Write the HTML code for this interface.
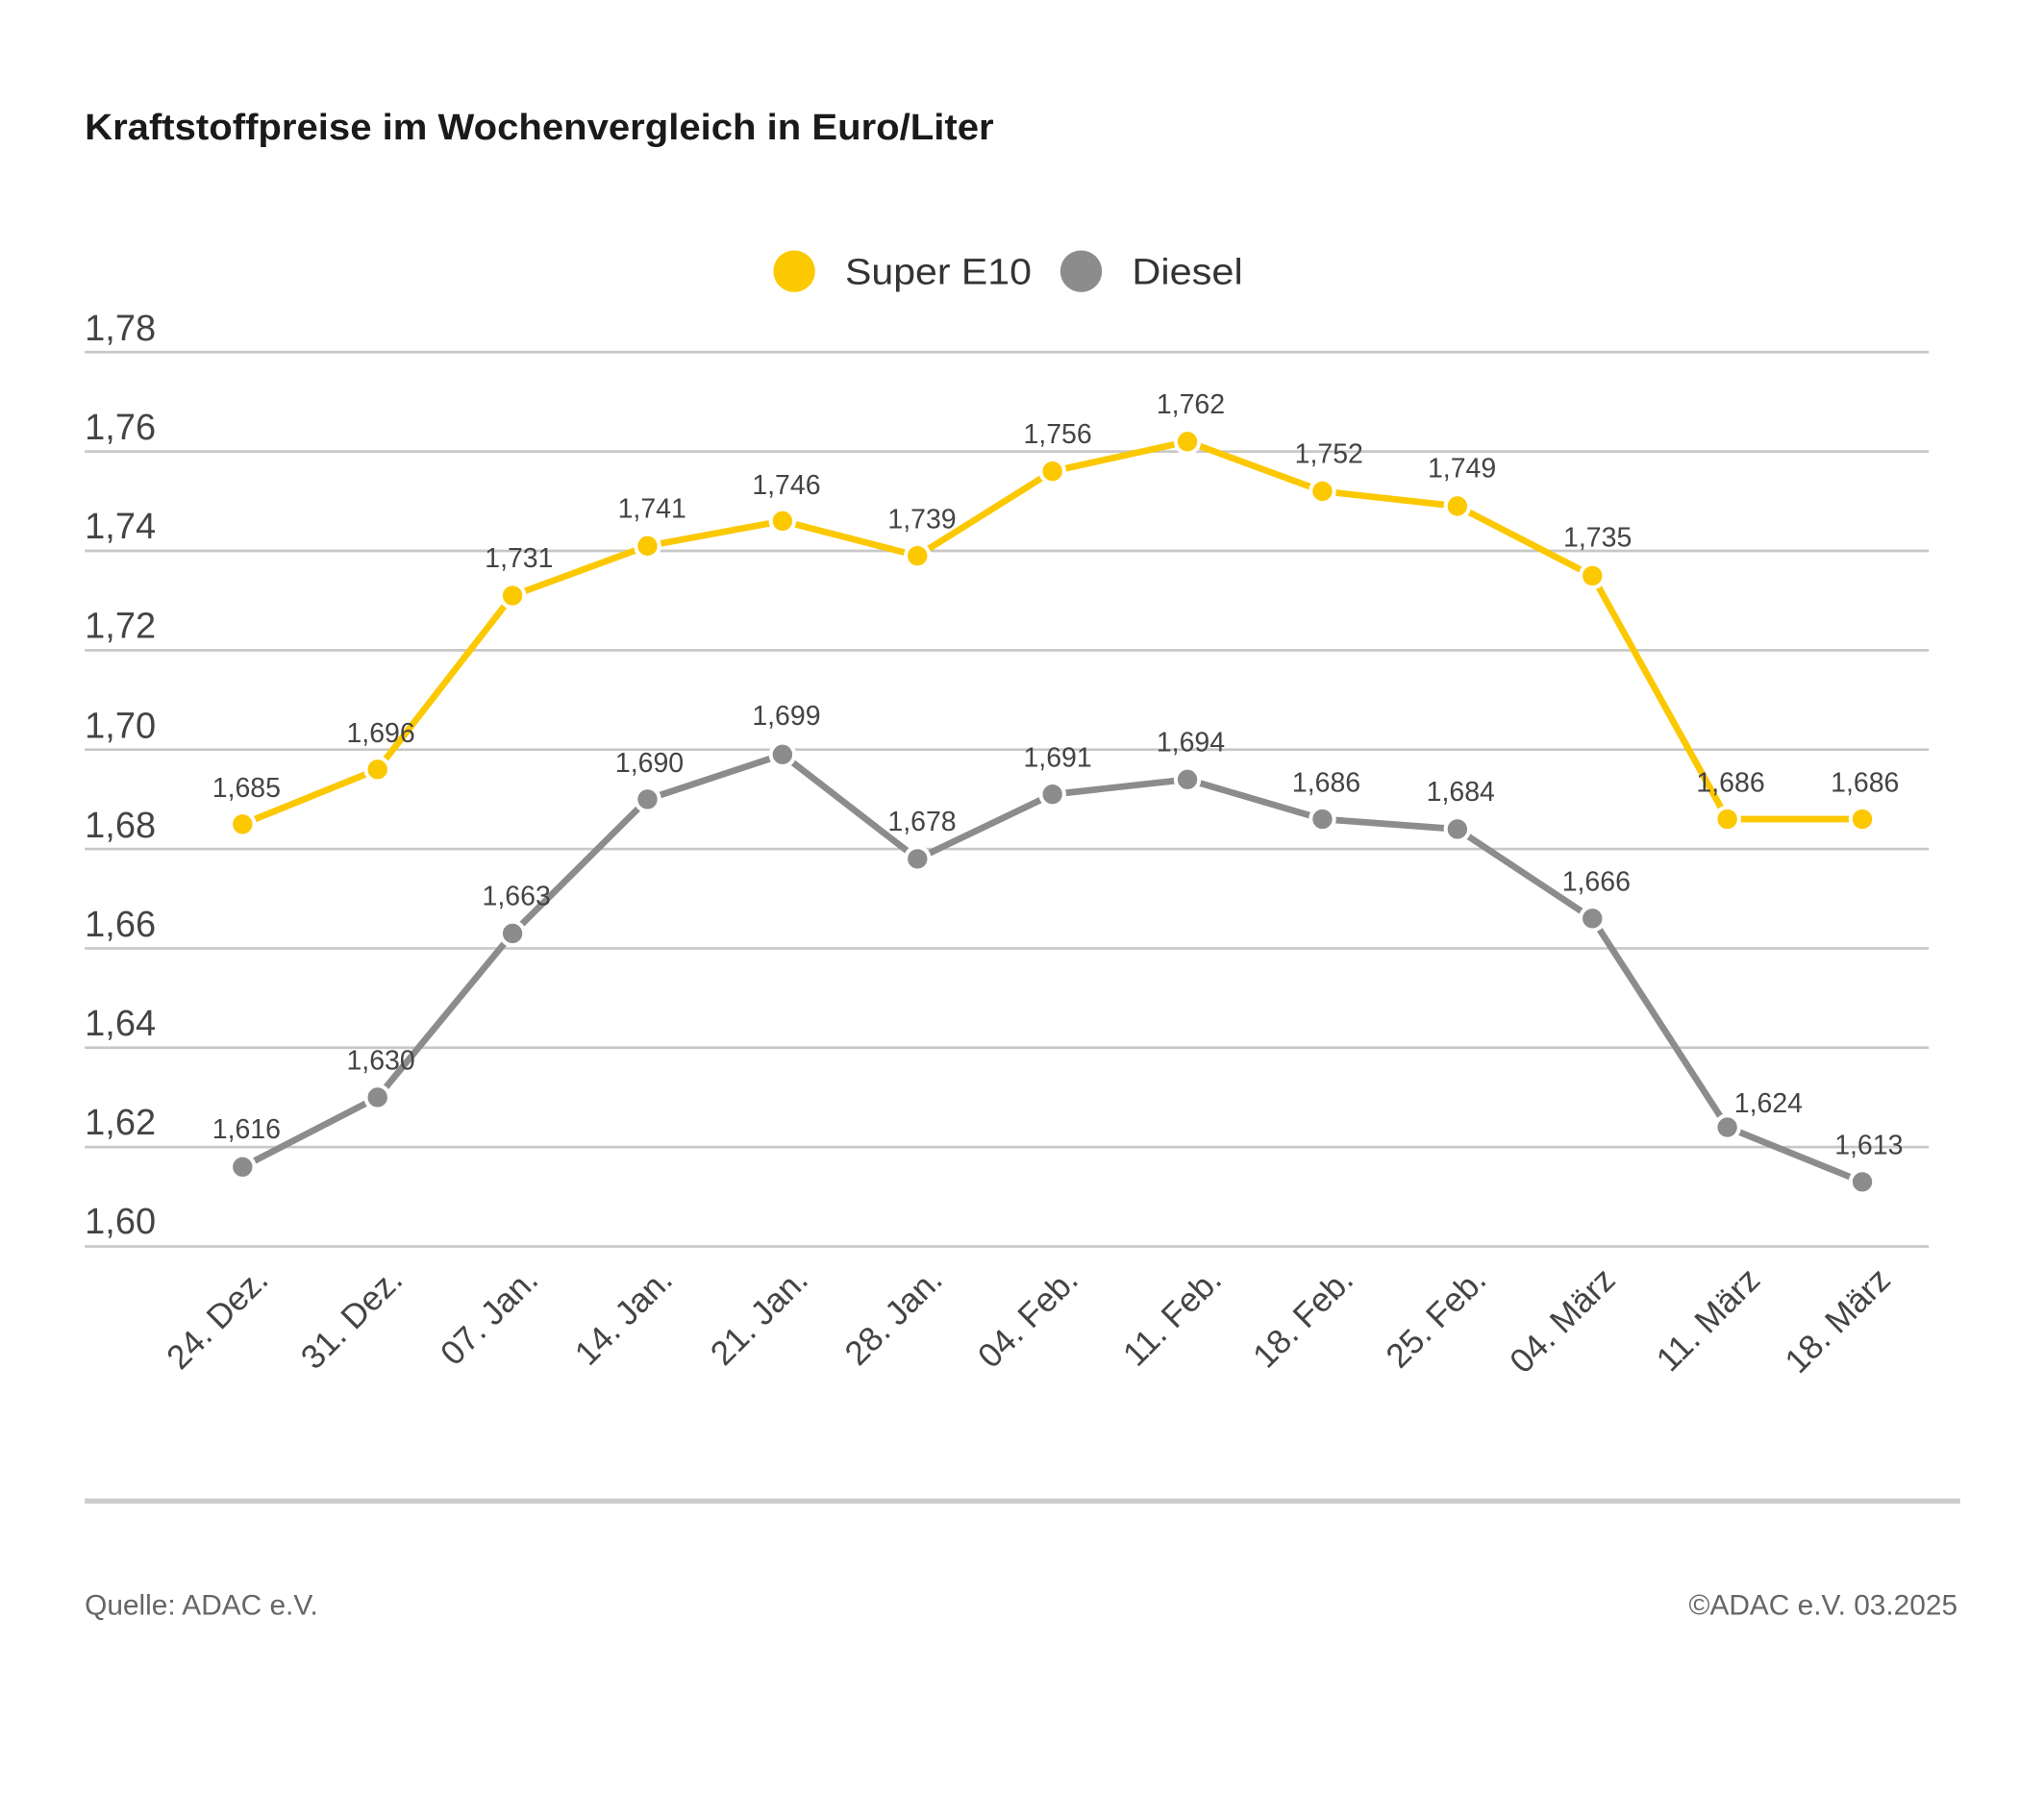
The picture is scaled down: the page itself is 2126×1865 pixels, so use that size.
<!DOCTYPE html>
<html><head><meta charset="utf-8"><style>
html,body{margin:0;padding:0;background:#fff;}
svg{display:block;}
text{font-family:"Liberation Sans",sans-serif;}
</style></head><body>
<svg width="2126" height="1865" viewBox="0 0 1567.3 1374.9" preserveAspectRatio="none" xmlns="http://www.w3.org/2000/svg">
<rect width="1567.3" height="1374.9" fill="#fff"/>
<text x="65" y="107" font-size="28" font-weight="bold" fill="#1a1a1a" textLength="697" lengthAdjust="spacingAndGlyphs">Kraftstoffpreise im Wochenvergleich in Euro/Liter</text>
<circle cx="609" cy="208" r="16" fill="#fcc800"/>
<text x="648" y="218" font-size="28" fill="#333" textLength="143" lengthAdjust="spacingAndGlyphs">Super E10</text>
<circle cx="829" cy="208" r="16" fill="#8c8c8c"/>
<text x="868" y="218" font-size="28" fill="#333" textLength="85" lengthAdjust="spacingAndGlyphs">Diesel</text>
<g stroke="#c8c8c8" stroke-width="2">
<line x1="65" x2="1479" y1="270" y2="270"/><line x1="65" x2="1479" y1="346.2" y2="346.2"/><line x1="65" x2="1479" y1="422.4" y2="422.4"/><line x1="65" x2="1479" y1="498.6" y2="498.6"/><line x1="65" x2="1479" y1="574.8" y2="574.8"/><line x1="65" x2="1479" y1="651" y2="651"/><line x1="65" x2="1479" y1="727.2" y2="727.2"/><line x1="65" x2="1479" y1="803.4" y2="803.4"/><line x1="65" x2="1479" y1="879.6" y2="879.6"/><line x1="65" x2="1479" y1="955.8" y2="955.8"/>
</g>
<g font-size="28" fill="#444">
<text x="65" y="261">1,78</text><text x="65" y="337">1,76</text><text x="65" y="413">1,74</text><text x="65" y="489">1,72</text><text x="65" y="566">1,70</text><text x="65" y="642">1,68</text><text x="65" y="718">1,66</text><text x="65" y="794">1,64</text><text x="65" y="870">1,62</text><text x="65" y="946">1,60</text>
</g>
<polyline fill="none" stroke="#fcc800" stroke-width="5" stroke-linejoin="round" points="186,632 289.5,590 393,456.7 496.5,418.6 600,399.5 703.5,426.2 807,361.4 910.5,338.6 1014,376.7 1117.5,388.1 1221,441.5 1324.5,628.1 1428,628.1"/>
<polyline fill="none" stroke="#8c8c8c" stroke-width="5" stroke-linejoin="round" points="186,894.8 289.5,841.5 393,715.8 496.5,612.9 600,578.6 703.5,658.6 807,609.1 910.5,597.7 1014,628.1 1117.5,635.8 1221,704.3 1324.5,864.4 1428,906.3"/>
<g fill="#fcc800" stroke="#fff" stroke-width="3">
<circle cx="186" cy="632" r="9"/><circle cx="289.5" cy="590" r="9"/><circle cx="393" cy="456.7" r="9"/><circle cx="496.5" cy="418.6" r="9"/><circle cx="600" cy="399.5" r="9"/><circle cx="703.5" cy="426.2" r="9"/><circle cx="807" cy="361.4" r="9"/><circle cx="910.5" cy="338.6" r="9"/><circle cx="1014" cy="376.7" r="9"/><circle cx="1117.5" cy="388.1" r="9"/><circle cx="1221" cy="441.5" r="9"/><circle cx="1324.5" cy="628.1" r="9"/><circle cx="1428" cy="628.1" r="9"/>
</g>
<g fill="#8c8c8c" stroke="#fff" stroke-width="3">
<circle cx="186" cy="894.8" r="9"/><circle cx="289.5" cy="841.5" r="9"/><circle cx="393" cy="715.8" r="9"/><circle cx="496.5" cy="612.9" r="9"/><circle cx="600" cy="578.6" r="9"/><circle cx="703.5" cy="658.6" r="9"/><circle cx="807" cy="609.1" r="9"/><circle cx="910.5" cy="597.7" r="9"/><circle cx="1014" cy="628.1" r="9"/><circle cx="1117.5" cy="635.8" r="9"/><circle cx="1221" cy="704.3" r="9"/><circle cx="1324.5" cy="864.4" r="9"/><circle cx="1428" cy="906.3" r="9"/>
</g>
<g font-size="21" fill="#444" text-anchor="middle">
<text x="189" y="611">1,685</text><text x="292" y="569">1,696</text><text x="398" y="435">1,731</text><text x="500" y="397">1,741</text><text x="603" y="379">1,746</text><text x="707" y="405">1,739</text><text x="811" y="340">1,756</text><text x="913" y="317">1,762</text><text x="1019" y="355">1,752</text><text x="1121" y="366">1,749</text><text x="1225" y="419">1,735</text><text x="1327" y="607">1,686</text><text x="1430" y="607">1,686</text>
<text x="189" y="873">1,616</text><text x="292" y="820">1,630</text><text x="396" y="694">1,663</text><text x="498" y="592">1,690</text><text x="603" y="556">1,699</text><text x="707" y="637">1,678</text><text x="811" y="588">1,691</text><text x="913" y="576">1,694</text><text x="1017" y="607">1,686</text><text x="1120" y="614">1,684</text><text x="1224" y="683">1,666</text><text x="1356" y="853">1,624</text><text x="1433" y="885">1,613</text>
</g>
<g font-size="26" fill="#444" text-anchor="end">
<text transform="translate(207,983) rotate(-45)">24. Dez.</text>
<text transform="translate(310,983) rotate(-45)">31. Dez.</text>
<text transform="translate(414,983) rotate(-45)">07. Jan.</text>
<text transform="translate(517,983) rotate(-45)">14. Jan.</text>
<text transform="translate(621,983) rotate(-45)">21. Jan.</text>
<text transform="translate(724,983) rotate(-45)">28. Jan.</text>
<text transform="translate(828,983) rotate(-45)">04. Feb.</text>
<text transform="translate(938,983) rotate(-45)">11. Feb.</text>
<text transform="translate(1039,983) rotate(-45)">18. Feb.</text>
<text transform="translate(1141,983) rotate(-45)">25. Feb.</text>
<text transform="translate(1240,983) rotate(-45)">04. März</text>
<text transform="translate(1351,983) rotate(-45)">11. März</text>
<text transform="translate(1451,983) rotate(-45)">18. März</text>
</g>
<line x1="65" x2="1503" y1="1151" y2="1151" stroke="#cccccc" stroke-width="4"/>
<text x="65" y="1238" font-size="22" fill="#666">Quelle: ADAC e.V.</text>
<text x="1501" y="1238" font-size="22" fill="#666" text-anchor="end">©ADAC e.V. 03.2025</text>
</svg>
</body></html>
